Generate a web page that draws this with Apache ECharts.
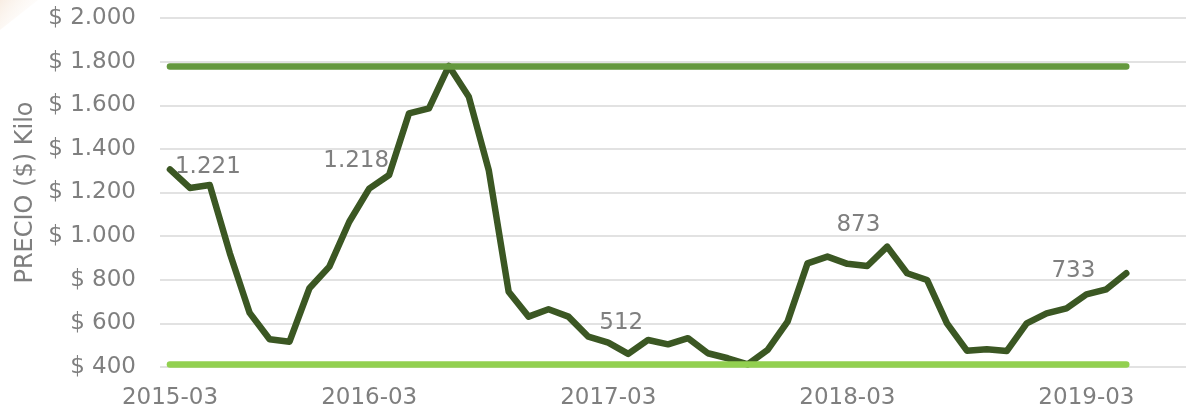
<!DOCTYPE html>
<html>
<head>
<meta charset="utf-8">
<script src="https://cdn.jsdelivr.net/npm/echarts@6/dist/echarts.min.js"></script>
<style>
html,body{margin:0;padding:0;background:#fff;}
#chart{width:1186px;height:417px;}
</style>
</head>
<body>
<div id="chart"></div>
<script>
// ---- data ----
const categories = [
  "2015-03","2015-04","2015-05","2015-06","2015-07","2015-08","2015-09","2015-10","2015-12","2016-02",
  "2016-03","2016-04","2016-05","2016-06","2016-07","2016-08","2016-09","2016-10","2016-11","2016-12",
  "2017-01","2017-02","2017-03","2017-04","2017-05","2017-06","2017-07","2017-08","2017-09","2017-10",
  "2017-11","2017-12","2018-01","2018-02","2018-03","2018-04","2018-05","2018-06","2018-07","2018-08",
  "2018-09","2018-10","2018-11","2018-12","2019-01","2019-02","2019-03","2019-04","2019-05"
];
const precio = [
  1306,1221,1234,923,648,527,516,761,860,1066,
  1218,1280,1563,1586,1780,1639,1303,745,631,665,
  631,539,512,460,524,504,532,463,440,412,
  478,608,875,906,873,863,952,830,799,600,
  475,481,473,600,646,669,733,756,830
];
const maxPrecio = 1780;
const minPrecio = 412;
const tickLabels = ["2015-03","2016-03","2017-03","2018-03","2019-03"];
const yTicks = [400,600,800,1000,1200,1400,1600,1800,2000];
const labeledPoints = [1,10,22,34,46];

// ---- presentation ----
const labelOffsets = {1:[18,-21],10:[-13,-28],22:[13,-20],34:[11,-39],46:[-13,-23]};
const padCats = [" ","  ","   "];
const fmt = v => String(v).replace(/\B(?=(\d{3})+(?!\d))/g, ".");
const textColor = "#7f7f7f";
const font = "'DejaVu Sans', sans-serif";

const lineData = precio.map((v,i) => {
  if (labeledPoints.includes(i)) {
    return {value:v, label:{show:true, position:'inside', offset:labelOffsets[i],
      formatter: p => fmt(p.value), color:textColor, fontSize:23, fontFamily:font}};
  }
  return v;
});

const chart = echarts.init(document.getElementById('chart'), null, {renderer:'canvas'});
chart.setOption({
  animation:false,
  backgroundColor:'#fff',
  graphic:[{type:'polygon', shape:{points:[[0,0],[38,0],[0,30]]},
    style:{fill:{type:'linear',x:0,y:0,x2:1,y2:1,colorStops:[{offset:0,color:'rgba(240,215,192,0.45)'},{offset:1,color:'rgba(255,255,255,0)'}]}}, z:-1}],
  grid:{left:160, top:18, width:1036, height:349, outerBoundsMode:'none', containLabel:false},
  xAxis:{
    type:'category',
    data:categories.concat(padCats),
    boundaryGap:true,
    axisLine:{show:false},
    axisTick:{show:false},
    splitLine:{show:false},
    axisLabel:{
      interval:(i,v)=>tickLabels.includes(v),
      color:textColor, fontSize:23, fontFamily:font, margin:20
    }
  },
  yAxis:{
    type:'value', min:yTicks[0], max:yTicks[yTicks.length-1], interval:200,
    name:'PRECIO ($) Kilo', nameLocation:'middle', nameGap:122, nameRotate:90,
    nameTextStyle:{color:textColor, fontSize:24, fontFamily:font},
    axisLine:{show:false}, axisTick:{show:false},
    splitLine:{lineStyle:{color:'#d9d9d9', width:1.5}},
    axisLabel:{formatter:v=>'$ '+fmt(v), color:textColor, fontSize:23, fontFamily:font, margin:24}
  },
  series:[
    {
      type:'line', name:'Precio', data:lineData,
      symbol:'circle', symbolSize:1, showSymbol:true,
      itemStyle:{color:'rgba(0,0,0,0)'},
      lineStyle:{color:'#3b5723', width:6.5, join:'round', cap:'round'},
      z:3,
      markLine:{
        silent:true, symbol:['none','none'], label:{show:false},
        lineStyle:{type:'solid', width:6.5, cap:'round'},
        data:[
          [{coord:[0,maxPrecio], lineStyle:{color:'#64983e', type:'solid', width:6.5, cap:'round'}},{coord:[categories.length-1,maxPrecio]}],
          [{coord:[0,minPrecio], lineStyle:{color:'#92d050', type:'solid', width:6.5, cap:'round'}},{coord:[categories.length-1,minPrecio]}]
        ]
      }
    }
  ]
});
</script>
</body>
</html>
